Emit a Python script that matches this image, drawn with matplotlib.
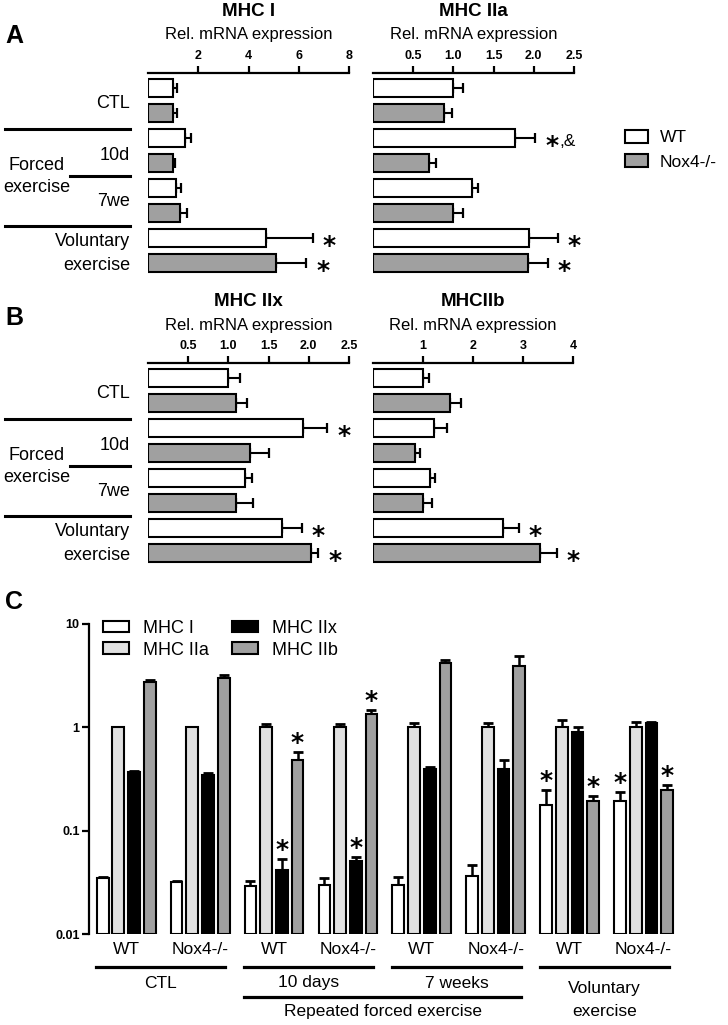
import matplotlib.pyplot as plt
import numpy as np
from matplotlib.patches import Patch
from matplotlib.lines import Line2D
from matplotlib import transforms

plt.rcParams['font.family'] = ['Liberation Sans', 'DejaVu Sans']

# ---- panels A / B : one value per condition (CTL, 10d, 7we, voluntary)
mhc1_wt = [1.0, 1.48, 1.1, 4.7]
mhc1_wt_err = [0.15, 0.24, 0.2, 1.87]
mhc1_ko = [1.0, 0.98, 1.28, 5.1]
mhc1_ko_err = [0.15, 0.08, 0.28, 1.2]

mhc2a_wt = [1.0, 1.76, 1.23, 1.94]
mhc2a_wt_err = [0.125, 0.26, 0.08, 0.36]
mhc2a_ko = [0.88, 0.70, 1.0, 1.93]
mhc2a_ko_err = [0.1, 0.08, 0.12, 0.25]

mhc2x_wt = [1.0, 1.93, 1.21, 1.67]
mhc2x_wt_err = [0.14, 0.30, 0.08, 0.24]
mhc2x_ko = [1.10, 1.27, 1.10, 2.03]
mhc2x_ko_err = [0.13, 0.24, 0.21, 0.09]

mhc2b_wt = [1.0, 1.23, 1.15, 2.59]
mhc2b_wt_err = [0.13, 0.25, 0.09, 0.33]
mhc2b_ko = [1.54, 0.84, 1.0, 3.33]
mhc2b_ko_err = [0.21, 0.1, 0.19, 0.34]

# significance marks: (bar row, extra text), rows alternate WT / Nox4-/-
mhc1_stars = [(6, ''), (7, '')]
mhc2a_stars = [(2, ',&'), (6, ''), (7, '')]
mhc2x_stars = [(2, ''), (6, ''), (7, '')]
mhc2b_stars = [(6, ''), (7, '')]

# ---- panel C : groups CTL WT, CTL KO, 10d WT, 10d KO, 7we WT, 7we KO, Vol WT, Vol KO
group_labels = ['WT', 'Nox4-/-'] * 4
c_mhc1 = [0.035, 0.032, 0.029, 0.030, 0.030, 0.037, 0.178, 0.196]
c_mhc1_err = [0.001, 0.001, 0.004, 0.005, 0.006, 0.010, 0.07, 0.043]
c_mhc2a = [1.0, 1.0, 1.0, 1.0, 1.0, 1.0, 1.0, 1.0]
c_mhc2a_err = [0.02, 0.02, 0.08, 0.09, 0.1, 0.1, 0.18, 0.14]
c_mhc2x = [0.373, 0.347, 0.042, 0.051, 0.394, 0.40, 0.90, 1.10]
c_mhc2x_err = [0.01, 0.013, 0.011, 0.005, 0.024, 0.085, 0.12, 0.03]
c_mhc2b = [2.74, 3.03, 0.485, 1.34, 4.18, 3.96, 0.193, 0.249]
c_mhc2b_err = [0.14, 0.15, 0.09, 0.13, 0.32, 0.94, 0.024, 0.029]
c_series = ['MHC I', 'MHC IIa', 'MHC IIx', 'MHC IIb']
c_stars = [(2, 2), (2, 3), (3, 2), (3, 3), (6, 0), (6, 3), (7, 0), (7, 3)]

W, H = 728, 1025
fig = plt.figure(figsize=(W / 100, H / 100), dpi=100)
STAR = dict(fontsize=18, fontweight='bold', family='DejaVu Sans')


def fx(x):
    return x / W


def fy(y):
    return 1 - y / H


def ftext(x, y, s, **kw):
    kw.setdefault('ha', 'center')
    kw.setdefault('va', 'center')
    kw.setdefault('fontsize', 12.5)
    fig.text(fx(x), fy(y), s, **kw)


def fline(x0, x1, y, lw=2.2):
    fig.add_artist(Line2D([fx(x0), fx(x1)], [fy(y), fy(y)], color='black',
                          lw=lw, transform=fig.transFigure))


def hpanel(x0, x1, top, title, wt, wt_err, ko, ko_err, xmax, ticks, ticklabels, stars):
    bottom = top + 8.1 * 25
    ax = fig.add_axes([fx(x0), fy(bottom), fx(x1 - x0), (bottom - top) / H])
    vals = np.ravel(np.column_stack([wt, ko]))
    errs = np.ravel(np.column_stack([wt_err, ko_err]))
    pos = np.arange(len(vals))
    colors = ['white', '#a0a0a0'] * len(wt)
    ax.errorbar(vals, pos, xerr=[np.zeros_like(errs), errs], fmt='none',
                ecolor='black', elinewidth=1.5, capsize=3.5, capthick=1.6, zorder=1)
    ax.barh(pos, vals, height=0.72, color=colors, edgecolor='black', linewidth=1.5, zorder=2)
    for row, extra in stars:
        ax.annotate('*', xy=(vals[row] + errs[row], row), xytext=(7, -10.5),
                    textcoords='offset points', ha='left', va='baseline', **STAR)
        if extra:
            ax.annotate(extra, xy=(vals[row] + errs[row], row), xytext=(17, -6),
                        textcoords='offset points', ha='left', va='baseline', fontsize=12.5)
    ax.set_xlim(0, xmax)
    ax.set_ylim(7.5, -0.6)
    for sp in ['left', 'right', 'bottom']:
        ax.spines[sp].set_visible(False)
    ax.spines['top'].set_linewidth(1.6)
    ax.xaxis.tick_top()
    ax.set_xticks(ticks)
    ax.set_xticklabels(ticklabels, fontweight='bold', fontsize=9)
    ax.tick_params(axis='x', direction='out', length=5, width=1.6, pad=3)
    ax.set_yticks([])
    xc = (x0 + x1) / 2
    ftext(xc, top - 61, title, fontweight='bold', fontsize=13.5)
    ftext(xc, top - 38, 'Rel. mRNA expression', fontsize=12)
    return ax


def row_labels(dy):
    ftext(130, 104 + dy, 'CTL', ha='right', fontsize=13)
    fline(5, 130, 129 + dy)
    ftext(130, 156 + dy, '10d', ha='right', fontsize=13)
    fline(70, 130, 176 + dy)
    ftext(37, 165 + dy, 'Forced', fontsize=13)
    ftext(37, 188 + dy, 'exercise', fontsize=13)
    ftext(130, 202 + dy, '7we', ha='right', fontsize=13)
    fline(5, 130, 226 + dy)
    ftext(130, 242 + dy, 'Voluntary', ha='right', fontsize=13)
    ftext(130, 265 + dy, 'exercise', ha='right', fontsize=13)


# ---------------- panel A
hpanel(148, 349, 73, 'MHC I', mhc1_wt, mhc1_wt_err, mhc1_ko, mhc1_ko_err,
       8, [2, 4, 6, 8], ['2', '4', '6', '8'], mhc1_stars)
hpanel(373, 574, 73, 'MHC IIa', mhc2a_wt, mhc2a_wt_err, mhc2a_ko, mhc2a_ko_err,
       2.5, [0.5, 1.0, 1.5, 2.0, 2.5], ['0.5', '1.0', '1.5', '2.0', '2.5'], mhc2a_stars)
row_labels(0)
ftext(14, 36, 'A', fontweight='bold', fontsize=18)

fig.legend(handles=[Patch(facecolor='white', edgecolor='black', lw=1.5, label='WT'),
                    Patch(facecolor='#a0a0a0', edgecolor='black', lw=1.5, label='Nox4-/-')],
           loc='upper left', bbox_to_anchor=(fx(625), fy(130)), frameon=False,
           fontsize=12.5, handlelength=1.3, handleheight=0.75, handletextpad=0.7,
           labelspacing=0.5, borderpad=0, borderaxespad=0)

# ---------------- panel B
hpanel(148, 349, 363, 'MHC IIx', mhc2x_wt, mhc2x_wt_err, mhc2x_ko, mhc2x_ko_err,
       2.5, [0.5, 1.0, 1.5, 2.0, 2.5], ['0.5', '1.0', '1.5', '2.0', '2.5'], mhc2x_stars)
hpanel(373, 573, 363, 'MHCIIb', mhc2b_wt, mhc2b_wt_err, mhc2b_ko, mhc2b_ko_err,
       4, [1, 2, 3, 4], ['1', '2', '3', '4'], mhc2b_stars)
row_labels(290)
ftext(14, 318, 'B', fontweight='bold', fontsize=18)

# ---------------- panel C
ax = fig.add_axes([fx(89.3), fy(934.3), fx(699 - 89.3), (934.3 - 624) / H])
gpitch = 4.71
colors_c = ['white', '#e0e0e0', 'black', '#a0a0a0']
series = [(c_mhc1, c_mhc1_err), (c_mhc2a, c_mhc2a_err),
          (c_mhc2x, c_mhc2x_err), (c_mhc2b, c_mhc2b_err)]
base = 0.01
groups = np.arange(len(group_labels))
for k, (vals, errs) in enumerate(series):
    xs = groups * gpitch + k
    vals = np.array(vals)
    ax.errorbar(xs, vals, yerr=[np.zeros_like(vals), errs], fmt='none', ecolor='black',
                elinewidth=1.8, capsize=3.5, capthick=2, zorder=1)
    ax.bar(xs, vals - base, bottom=base, width=0.75, color=colors_c[k],
           edgecolor='black', linewidth=1.5, zorder=2, label=c_series[k])
for g, k in c_stars:
    vals, errs = series[k]
    ax.annotate('*', xy=(g * gpitch + k, vals[g] + errs[g]), xytext=(0, 1.5),
                textcoords='offset points', ha='center', va='baseline', **STAR)
ax.set_yscale('log')
ax.set_ylim(0.01, 10)
ax.set_xlim(-0.85, 38)
for sp in ['top', 'right', 'bottom']:
    ax.spines[sp].set_visible(False)
ax.spines['left'].set_linewidth(1.6)
ax.set_yticks([0.01, 0.1, 1, 10])
ax.set_yticklabels(['0.01', '0.1', '1', '10'], fontweight='bold', fontsize=9)
ax.yaxis.set_minor_locator(plt.NullLocator())
ax.tick_params(axis='y', direction='out', length=5, width=1.6, pad=2)
ax.set_xticks([])
ax.legend(loc='upper left', bbox_to_anchor=(fx(103), fy(620)), bbox_transform=fig.transFigure,
          ncol=2, frameon=False, fontsize=13, handlelength=1.45, handleheight=0.6,
          handletextpad=0.75, labelspacing=0.25, columnspacing=1.3, borderpad=0, borderaxespad=0)

tr = transforms.blended_transform_factory(ax.transData, fig.transFigure)
centers = groups * gpitch + 1.5
for g, lab in enumerate(group_labels):
    ax.text(centers[g], fy(950), lab, transform=tr, ha='center', va='center', fontsize=12.5)


def cline(x0, x1, y):
    fig.add_artist(Line2D([x0, x1], [fy(y), fy(y)], color='black', lw=2.3, transform=tr))


pair_names = ['CTL', '10 days', '7 weeks', None]
for p in range(4):
    x0 = centers[2 * p] - 1.9
    x1 = centers[2 * p + 1] + 1.6
    cline(x0, x1, 966.7)
    if pair_names[p]:
        ax.text((x0 + x1) / 2, fy(983), pair_names[p], transform=tr, ha='center', va='center', fontsize=12.5)
x0 = centers[2] - 1.9
x1 = centers[5] + 1.6
cline(x0, x1, 997.3)
ax.text((x0 + x1) / 2, fy(1011.5), 'Repeated forced exercise', transform=tr,
        ha='center', va='center', fontsize=12.5)
xv = (centers[6] + centers[7]) / 2 - 0.15
ax.text(xv, fy(989), 'Voluntary', transform=tr, ha='center', va='center', fontsize=12.5)
ax.text(xv, fy(1011.5), 'exercise', transform=tr, ha='center', va='center', fontsize=12.5)
ftext(14, 602, 'C', fontweight='bold', fontsize=18)

fig.savefig('out.png', dpi=100)
